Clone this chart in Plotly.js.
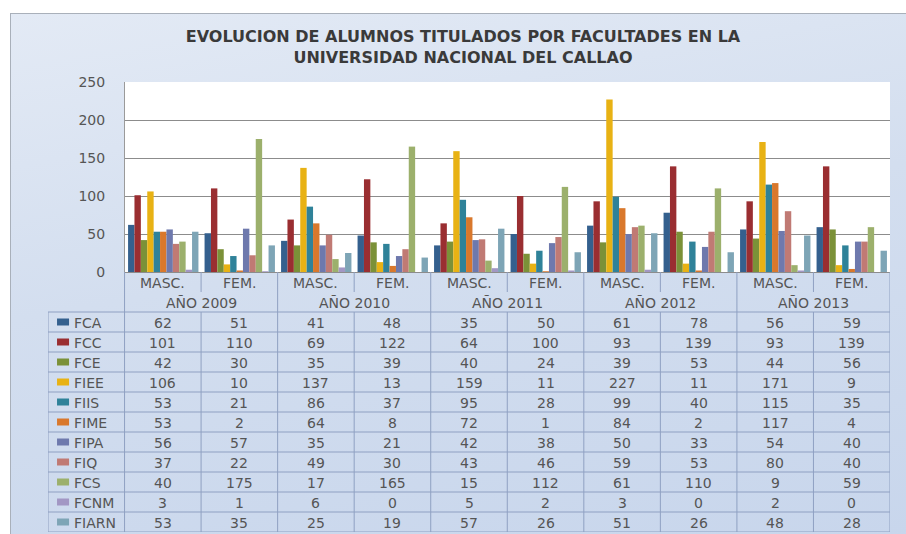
<!DOCTYPE html>
<html>
<head>
<meta charset="utf-8">
<script src="https://cdn.plot.ly/plotly-3.0.1.min.js"></script>
<style>
  html, body { margin:0; padding:0; background:#ffffff; width:906px; height:534px; overflow:hidden; }
  #bg { position:absolute; left:10px; top:13px; width:896px; height:521px;
        border-top:1px solid #a9b0ba; border-left:1px solid #a9b0ba;
        background: linear-gradient(170deg, #e3eaf5 0%, #d3deef 45%, #c8d6ec 100%); }
  #chart { position:absolute; left:0; top:0; width:906px; height:534px; }
</style>
</head>
<body>
<div id="bg"></div>
<div id="chart"></div>
<script>
// ---- data ----
const categories = ['MASC.','FEM.','MASC.','FEM.','MASC.','FEM.','MASC.','FEM.','MASC.','FEM.'];
const years = ['AÑO 2009','AÑO 2010','AÑO 2011','AÑO 2012','AÑO 2013'];
const seriesNames = ['FCA','FCC','FCE','FIEE','FIIS','FIME','FIPA','FIQ','FCS','FCNM','FIARN'];
const FCA   = [62, 51, 41, 48, 35, 50, 61, 78, 56, 59];
const FCC   = [101, 110, 69, 122, 64, 100, 93, 139, 93, 139];
const FCE   = [42, 30, 35, 39, 40, 24, 39, 53, 44, 56];
const FIEE  = [106, 10, 137, 13, 159, 11, 227, 11, 171, 9];
const FIIS  = [53, 21, 86, 37, 95, 28, 99, 40, 115, 35];
const FIME  = [53, 2, 64, 8, 72, 1, 84, 2, 117, 4];
const FIPA  = [56, 57, 35, 21, 42, 38, 50, 33, 54, 40];
const FIQ   = [37, 22, 49, 30, 43, 46, 59, 53, 80, 40];
const FCS   = [40, 175, 17, 165, 15, 112, 61, 110, 9, 59];
const FCNM  = [3, 1, 6, 0, 5, 2, 3, 0, 2, 0];
const FIARN = [53, 35, 25, 19, 57, 26, 51, 26, 48, 28];
const seriesValues = [FCA, FCC, FCE, FIEE, FIIS, FIME, FIPA, FIQ, FCS, FCNM, FIARN];
const yTicks = [0, 50, 100, 150, 200, 250];
const titleText = 'EVOLUCION DE ALUMNOS TITULADOS POR FACULTADES EN LA<br>UNIVERSIDAD NACIONAL DEL CALLAO';

// ---- styles ----
const colors = ['#34608e','#9a2e31','#7b9138','#e8b214','#2f8299','#d9782c',
                '#6e79ad','#c07a74','#9cb06c','#a297c4','#7ea5b6'];
const FONT = '"DejaVu Sans", "Open Sans", sans-serif';
const txtColor = '#555555';
const gridLine = '#8fa0c2';

const xIdx = categories.map((c, i) => i);

const traces = seriesNames.map((name, s) => ({
  type: 'bar',
  name: name,
  x: xIdx,
  y: seriesValues[s],
  xaxis: 'x', yaxis: 'y',
  marker: { color: colors[s], line: { width: 0 } },
  hoverinfo: 'name+y'
}));

// table geometry in y2 pixel units (0 = table top)
const HEAD1 = 20, HEAD2 = 40, ROWH = 20;
const tableBottom = HEAD2 + ROWH * seriesNames.length;

const shapes = [];
const annotations = [];

// white plot area of bar chart
shapes.push({ type:'rect', xref:'x domain', yref:'y domain', x0:0, x1:1, y0:0, y1:1,
  fillcolor:'#ffffff', line:{width:0}, layer:'below' });

// horizontal row lines
for (let k = 0; k <= seriesNames.length; k++) {
  const y = HEAD2 + ROWH * k;
  shapes.push({ type:'line', xref:'x2', yref:'y2', x0:-1.5, x1:categories.length - 0.5,
    y0:y, y1:y, line:{color:gridLine, width:1} });
}
// vertical lines in data rows
for (let c = -1; c <= categories.length; c++) {
  const x = c - 0.5;
  shapes.push({ type:'line', xref:'x2', yref:'y2', x0:x, x1:x, y0:HEAD2, y1:tableBottom,
    line:{color:gridLine, width:1} });
}
// header vertical lines
for (let c = 0; c <= categories.length; c++) {
  const x = c - 0.5;
  const isYear = (c % 2 === 0);
  shapes.push({ type:'line', xref:'x2', yref:'y2', x0:x, x1:x, y0:0, y1: isYear ? HEAD2 : HEAD1,
    line:{color:gridLine, width:1} });
}

const tfont = { family:FONT, size:14, color:txtColor };

// category labels
categories.forEach((c, i) => {
  annotations.push({ xref:'x2', yref:'y2', x:i, y:HEAD1/2 + 0.5, text:c, showarrow:false,
    font:tfont, xanchor:'center', yanchor:'middle' });
});
// year labels
years.forEach((yr, j) => {
  annotations.push({ xref:'x2', yref:'y2', x:2*j + 0.5, y:(HEAD1 + HEAD2)/2 + 1, text:yr, showarrow:false,
    font:tfont, xanchor:'center', yanchor:'middle' });
});
// data rows
seriesNames.forEach((name, s) => {
  const yc = HEAD2 + ROWH * s + ROWH/2;
  shapes.push({ type:'rect', xref:'x2', yref:'y2', x0:-1.382, x1:-1.225, y0:yc - 3.5, y1:yc + 3.5,
    fillcolor:colors[s], line:{width:0} });
  annotations.push({ xref:'x2', yref:'y2', x:-1.18, y:yc + 0.5, text:name, showarrow:false,
    font:tfont, xanchor:'left', yanchor:'middle' });
  seriesValues[s].forEach((v, i) => {
    annotations.push({ xref:'x2', yref:'y2', x:i, y:yc + 0.5, text:String(v), showarrow:false,
      font:tfont, xanchor:'center', yanchor:'middle' });
  });
});

const plotH = 534 - 82 - 2;
const tableFrac = tableBottom / plotH;

const layout = {
  width: 906, height: 534,
  margin: { l: 48, r: 16, t: 82, b: 2 },
  paper_bgcolor: 'rgba(0,0,0,0)',
  plot_bgcolor: 'rgba(0,0,0,0)',
  showlegend: false,
  barmode: 'group',
  bargap: 0.08,
  bargroupgap: 0,
  title: {
    text: '<b>' + titleText + '</b>',
    font: { family: FONT, size: 16, color: '#3a3a3a' },
    x: 463/906, xref: 'container', xanchor: 'center',
    y: 1 - 42/534, yref: 'container', yanchor: 'middle'
  },
  xaxis: {
    domain: [77/842, 1], range: [-0.5, categories.length - 0.5], anchor: 'y',
    showticklabels: false, ticks: '', showgrid: false, zeroline: false, showline: false, fixedrange: true
  },
  yaxis: {
    domain: [tableFrac, 1], range: [0, 250], anchor: 'x',
    tickvals: yTicks, ticktext: yTicks.map(String),
    tickfont: { family: FONT, size: 14, color: '#555555' },
    ticks: 'outside', ticklen: 16, tickcolor: 'rgba(0,0,0,0)',
    showgrid: true, gridcolor: '#8c8c8c', gridwidth: 1,
    zeroline: true, zerolinecolor: '#8c8c8c', zerolinewidth: 1,
    showline: true, linecolor: '#9a9a9a', linewidth: 1, fixedrange: true
  },
  xaxis2: {
    domain: [0, 1], range: [-1.5, categories.length - 0.5], anchor: 'y2', visible: false, fixedrange: true
  },
  yaxis2: {
    domain: [0, tableFrac], range: [tableBottom, 0], anchor: 'x2', visible: false, fixedrange: true
  },
  shapes: shapes,
  annotations: annotations
};

Plotly.newPlot('chart', traces, layout, { displayModeBar: false, staticPlot: true });
</script>
</body>
</html>
